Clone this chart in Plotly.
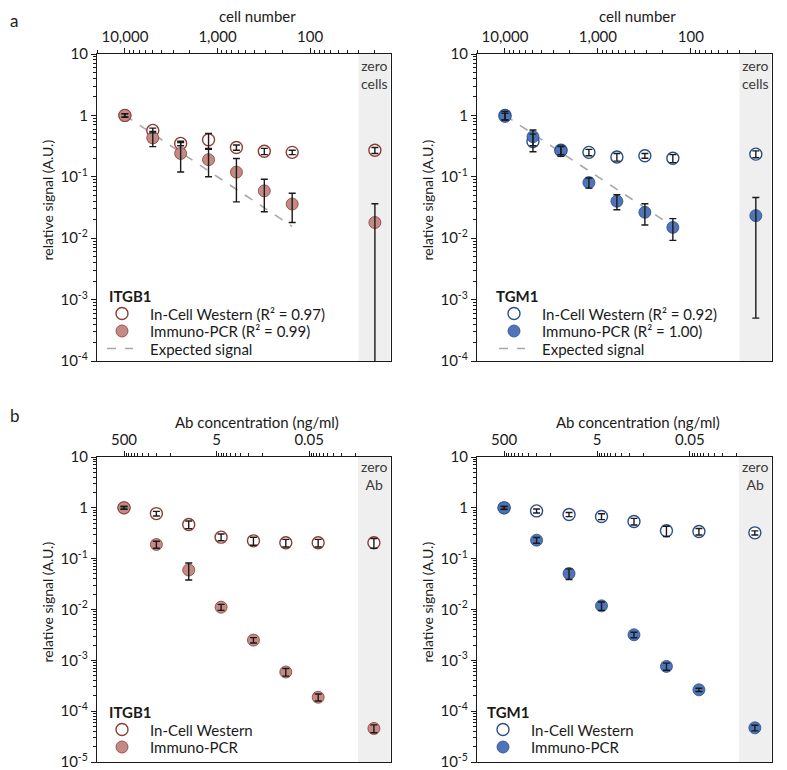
import numpy as np
import plotly.graph_objects as go

# ---- panel a: cell number titration ----
cells = [10000, 5000, 2500, 1250, 625, 312.5, 156.25]
ZERO_CELLS = 20          # where the "zero cells" column sits on the log axis
expected = [1, 0.5, 0.25, 0.125, 0.0625, 0.03125, 0.015625]

# last value of each list = zero cells
a_itgb1_icw = [1.0, 0.57, 0.35, 0.40, 0.30, 0.26, 0.25, 0.27]
a_itgb1_icw_err = [0.07, 0.05, 0.03, 0.11, 0.03, 0.03, 0.02, 0.03]
a_itgb1_pcr = [1.0, 0.43, 0.24, 0.19, 0.119, 0.059, 0.036, 0.018]
a_itgb1_pcr_err = [0.06, 0.12, 0.12, 0.09, 0.08, 0.032, 0.018, 0.0185]

a_tgm1_icw = [1.0, 0.376, 0.27, 0.25, 0.21, 0.22, 0.20, 0.234]
a_tgm1_icw_err = [0.16, 0.12, 0.04, 0.03, 0.03, 0.02, 0.03, 0.03]
a_tgm1_pcr = [0.96, 0.45, 0.265, 0.0805, 0.040, 0.0264, 0.015, 0.0233]
a_tgm1_pcr_err = [0.12, 0.13, 0.05, 0.015, 0.011, 0.01, 0.0058, 0.0228]

# ---- panel b: antibody titration ----
conc = [500, 100, 20, 4, 0.8, 0.16, 0.032]
ZERO_AB = 0.002

b_itgb1_icw = [1.0, 0.77, 0.47, 0.265, 0.224, 0.205, 0.205, 0.205]
b_itgb1_icw_err = [0.06, 0.08, 0.08, 0.04, 0.04, 0.035, 0.035, 0.045]
b_itgb1_pcr = [1.0, 0.19, 0.060, 0.0111, 0.0025, 0.00059, 0.000188, 4.57e-5]
b_itgb1_pcr_err = [0.06, 0.03, 0.022, 0.0015, 0.0003, 0.0001, 0.00003, 0.8e-5]

b_tgm1_icw = [1.0, 0.87, 0.74, 0.676, 0.54, 0.353, 0.342, 0.322]
b_tgm1_icw_err = [0.06, 0.08, 0.07, 0.09, 0.08, 0.08, 0.05, 0.03]
b_tgm1_pcr = [1.0, 0.231, 0.051, 0.0118, 0.00318, 0.00076, 0.000263, 4.7e-5]
b_tgm1_pcr_err = [0.07, 0.03, 0.012, 0.0022, 0.0004, 0.00012, 0.00002, 0.6e-5]

FONT = "Lato"
INK = "#1a1a1a"
RED_FILL, RED_EDGE = "#c28b85", "#8e3b33"
BLUE_FILL, BLUE_EDGE = "#4f74b8", "#2b4c8a"
DASH_GREY = "#a8a8a8"

W, H = 787, 770
OFF = 8  # page body margin; layout below is given in screen pixels


def px_x(p):
    return (p - OFF) / W


def px_y(p):
    return 1 - (p - OFF) / H


fig = go.Figure()

panels = [
    dict(n="", xs=(97, 391), ys=(54, 361), x=cells, zero=ZERO_CELLS, gene="ITGB1",
         fill=RED_FILL, edge=RED_EDGE, icw=a_itgb1_icw, icw_err=a_itgb1_icw_err,
         pcr=a_itgb1_pcr, pcr_err=a_itgb1_pcr_err, r2=("0.97", "0.99"),
         leg=dict(title=107, mark=122, text=148, y=296)),
    dict(n="2", xs=(477, 772), ys=(54, 361), x=cells, zero=ZERO_CELLS, gene="TGM1",
         fill=BLUE_FILL, edge=BLUE_EDGE, icw=a_tgm1_icw, icw_err=a_tgm1_icw_err,
         pcr=a_tgm1_pcr, pcr_err=a_tgm1_pcr_err, r2=("0.92", "1.00"),
         leg=dict(title=494, mark=514, text=540, y=296)),
    dict(n="3", xs=(97, 391), ys=(457, 762), x=conc, zero=ZERO_AB, gene="ITGB1",
         fill=RED_FILL, edge=RED_EDGE, icw=b_itgb1_icw, icw_err=b_itgb1_icw_err,
         pcr=b_itgb1_pcr, pcr_err=b_itgb1_pcr_err, r2=None,
         leg=dict(title=107, mark=122, text=148, y=712)),
    dict(n="4", xs=(477, 772), ys=(457, 762), x=conc, zero=ZERO_AB, gene="TGM1",
         fill=BLUE_FILL, edge=BLUE_EDGE, icw=b_tgm1_icw, icw_err=b_tgm1_icw_err,
         pcr=b_tgm1_pcr, pcr_err=b_tgm1_pcr_err, r2=None,
         leg=dict(title=485, mark=503, text=529, y=712)),
]

minor_y = [m * 10.0 ** k for k in range(-6, 1) for m in range(2, 10)]
minor_x_a = [m * 10.0 ** k for k in range(1, 5) for m in range(2, 10)]
minor_x_b = [m * 5 * 10.0 ** k for k in (-3, -1, 1) for m in range(1, 10)]

annotations = []
shapes = []


def text_note(txt, x, y, size=14, xanchor="left", yanchor="middle", **kw):
    annotations.append(dict(text=txt, xref="paper", yref="paper", x=px_x(x), y=px_y(y),
                            xanchor=xanchor, yanchor=yanchor, showarrow=False,
                            font=dict(family=FONT, size=size, color=INK), **kw))


for i, p in enumerate(panels):
    xa = "x" + p["n"]
    ya = "y" + p["n"]
    is_a = i < 2
    xvals = list(p["x"]) + [p["zero"]]

    if is_a:
        fig.add_trace(go.Scatter(
            x=p["x"], y=expected, mode="lines", xaxis=xa, yaxis=ya,
            name="Expected signal", line=dict(color=DASH_GREY, width=1.6, dash="dash"),
        ))
    fig.add_trace(go.Scatter(
        x=xvals, y=p["icw"], mode="markers", xaxis=xa, yaxis=ya, name="In-Cell Western",
        marker=dict(size=12, color="white", line=dict(color=p["edge"], width=1.4)),
    ))
    fig.add_trace(go.Scatter(
        x=xvals, y=p["pcr"], mode="markers", xaxis=xa, yaxis=ya, name="Immuno-PCR",
        marker=dict(size=12, color=p["fill"], line=dict(color=p["edge"], width=0.8)),
    ))
    # error bars drawn on top of the markers
    for vals, errs in ((p["icw"], p["icw_err"]), (p["pcr"], p["pcr_err"])):
        fig.add_trace(go.Scatter(
            x=xvals, y=vals, mode="markers", xaxis=xa, yaxis=ya,
            marker=dict(size=2, color="rgba(0,0,0,0)"), hoverinfo="skip",
            error_y=dict(type="data", array=errs, visible=True,
                         color=INK, thickness=1.4, width=3.5),
        ))

    # shaded "zero" column
    if is_a:
        shapes.append(dict(type="rect", xref=xa, yref=ya + " domain", x0=30, x1=13.7,
                           y0=0, y1=1, fillcolor="#efefef", line_width=0, layer="below"))
        ztxt, ztop = "zero<br>cells", 55
    else:
        shapes.append(dict(type="rect", xref=xa, yref=ya + " domain", x0=0.0044, x1=0.00089,
                           y0=0, y1=1, fillcolor="#efefef", line_width=0, layer="below"))
        ztxt, ztop = "zero<br>Ab", 456
    annotations.append(dict(text=ztxt, xref=xa, x=np.log10(p["zero"]), yref="paper",
                            y=px_y(ztop), yanchor="top", showarrow=False,
                            font=dict(family=FONT, size=14, color="#3a3a3a")))

    # legend drawn by hand so spacing matches
    lg = p["leg"]
    text_note(f"<b>{p['gene']}</b>", lg["title"], lg["y"], size=15)
    icw_name = "In-Cell Western" + (f" (R² = {p['r2'][0]})" if p["r2"] else "")
    pcr_name = "Immuno-PCR" + (f" (R² = {p['r2'][1]})" if p["r2"] else "")
    rows = [(icw_name, "open"), (pcr_name, "filled")]
    if is_a:
        rows.append(("Expected signal", "dash"))
    for k, (label, kind) in enumerate(rows):
        cy = lg["y"] + 17.5 * (k + 1)
        cx = lg["mark"]
        if kind == "dash":
            shapes.append(dict(type="line", xref="paper", yref="paper",
                               x0=px_x(cx - 15), x1=px_x(cx + 11), y0=px_y(cy), y1=px_y(cy),
                               line=dict(color=DASH_GREY, width=1.6, dash="dash")))
        else:
            shapes.append(dict(type="circle", xref="paper", yref="paper",
                               x0=px_x(cx - 6), x1=px_x(cx + 6),
                               y0=px_y(cy + 6), y1=px_y(cy - 6),
                               fillcolor="white" if kind == "open" else p["fill"],
                               line=dict(color=p["edge"], width=1.4 if kind == "open" else 0.8)))
        text_note(label, lg["text"], cy, size=15)

    # axis titles
    xt_center = (p["xs"][0] + p["xs"][1]) / 2 + 13
    text_note("cell number" if is_a else "Ab concentration (ng/ml)", xt_center,
              16 if is_a else 422, size=15, xanchor="center")
    text_note("relative signal (A.U.)", p["xs"][0] - 50, (p["ys"][0] + p["ys"][1]) / 2 - 7,
              xanchor="center", textangle=-90)

    xdom = [px_x(p["xs"][0]), px_x(p["xs"][1])]
    ydom = [px_y(p["ys"][1]), px_y(p["ys"][0])]
    if is_a:
        xrange = [np.log10(20000), np.log10(13.4)]
        xtv, xtt, xminor = [10000, 1000, 100], ["10,000", "1,000", "100"], minor_x_a
        ylo = -4
    else:
        xrange = [np.log10(1916), np.log10(8.55e-4)]
        xtv, xtt, xminor = [500, 5, 0.05], ["500", "5", "0.05"], minor_x_b
        ylo = -5
    ytv = [10.0 ** k for k in range(1, ylo - 1, -1)]
    ytt = ["10", "1"] + [f"10<sup>{k}</sup>" for k in range(-1, ylo - 1, -1)]

    axis_common = dict(showgrid=False, zeroline=False, showline=True, linecolor=INK,
                       linewidth=1.3, mirror=True, ticks="outside", ticklen=5,
                       tickwidth=1.1, tickcolor=INK, automargin=False,
                       tickfont=dict(family=FONT, size=15, color=INK))
    fig.update_layout(**{
        "xaxis" + p["n"]: dict(axis_common, type="log", domain=xdom, range=xrange,
                               side="top", anchor=ya, tickmode="array", tickvals=xtv,
                               ticktext=xtt,
                               minor=dict(tickmode="array", tickvals=xminor, ticks="outside",
                                          ticklen=3, tickwidth=1, tickcolor=INK,
                                          showgrid=False)),
        "yaxis" + p["n"]: dict(axis_common, type="log", domain=ydom, range=[ylo, 1],
                               anchor=xa, tickmode="array", tickvals=ytv, ticktext=ytt,
                               minor=dict(tickmode="array", tickvals=minor_y, ticks="outside",
                                          ticklen=3, tickwidth=1, tickcolor=INK,
                                          showgrid=False)),
    })

# panel letters sit in the page corner
text_note("a", 8, 8, size=17, yanchor="top")
text_note("b", 8, 416, size=17)

fig.update_layout(
    width=W, height=H,
    margin=dict(l=0, r=0, t=0, b=0, autoexpand=False),
    plot_bgcolor="white", paper_bgcolor="white",
    showlegend=False,
    annotations=annotations, shapes=shapes,
    font=dict(family=FONT, color=INK),
)

fig.write_html("out.html")
